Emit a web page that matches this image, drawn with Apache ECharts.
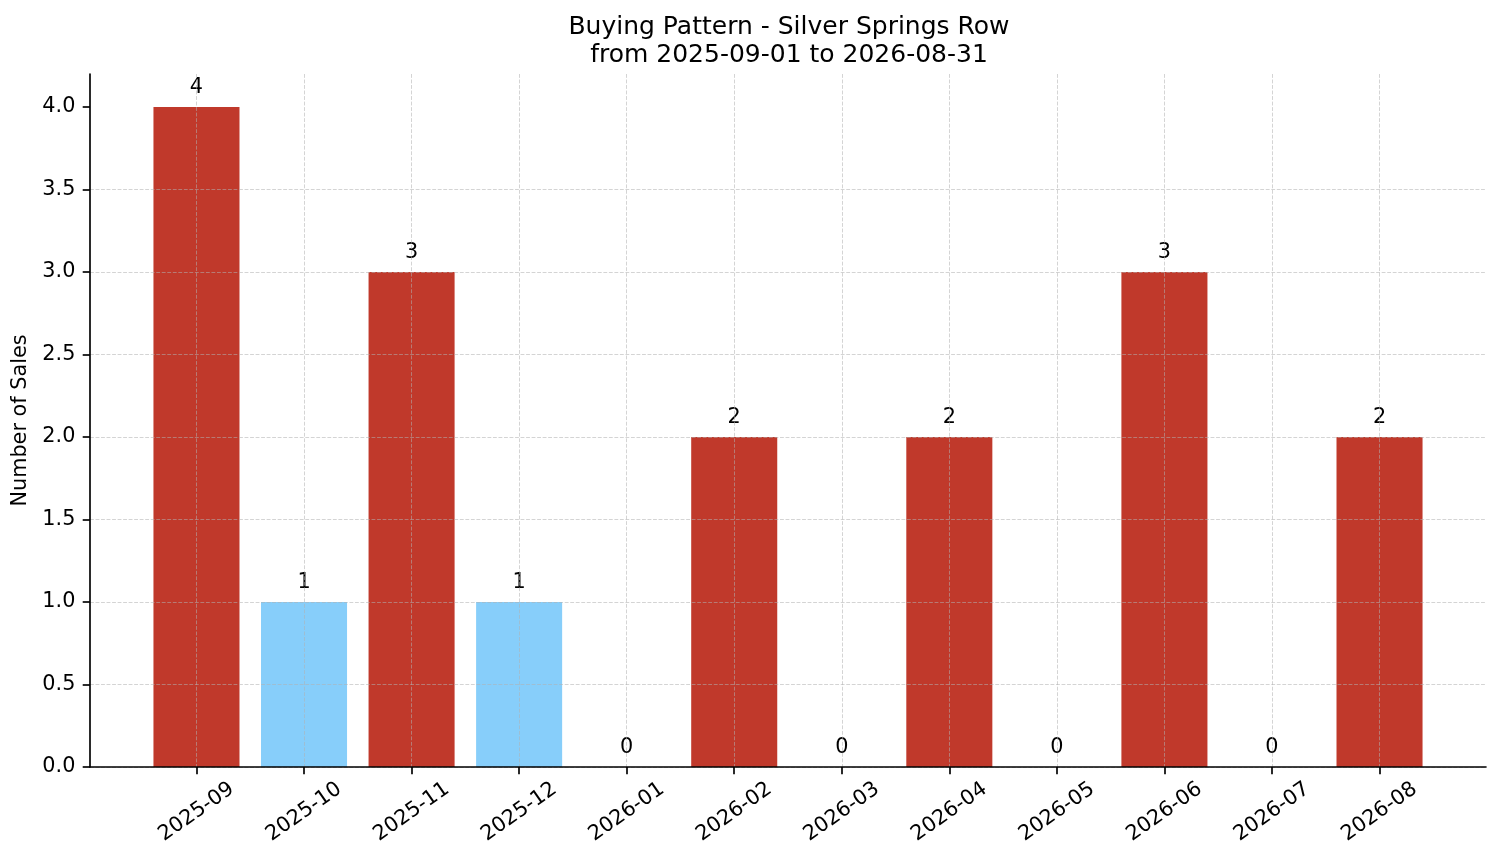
<!DOCTYPE html>
<html>
<head>
<meta charset="utf-8">
<script src="https://cdn.jsdelivr.net/npm/echarts@6/dist/echarts.min.js"></script>
<style>
html,body{margin:0;padding:0;background:#ffffff;}
#chart{width:1501px;height:863px;}
</style>
</head>
<body>
<div id="chart"></div>
<script>
// ---- data ----
const months = ['2025-09','2025-10','2025-11','2025-12','2026-01','2026-02','2026-03','2026-04','2026-05','2026-06','2026-07','2026-08'];
const sales = [4, 1, 3, 1, 0, 2, 0, 2, 0, 3, 0, 2];
const yTicks = [0, 0.5, 1.0, 1.5, 2.0, 2.5, 3.0, 3.5, 4.0];
const titleLines = ['Buying Pattern - Silver Springs Row', 'from 2025-09-01 to 2026-08-31'];
const yAxisTitle = 'Number of Sales';
const colorHigh = '#C0392B';
const colorLow = '#87CEFA';

// ---- layout ----
const W = 1501, H = 863;
const axLeft = 90, axRight = 1486, axTop = 74, axBottom = 767;
const n = months.length;
// matplotlib-like x extent: bars of width 0.8 plus 5% margins
const span = (n - 1 + 0.8) * 1.1;
const unit = (axRight - axLeft) / span;
const pad = (span - n) / 2 * unit;
const FONT = 'DejaVu Sans';
const FS = 20.8;
const gridColor = 'rgba(176,176,176,0.55)';
const dash = [3.85, 1.67];
const mean = sales.reduce((a, b) => a + b, 0) / sales.length;

const chart = echarts.init(document.getElementById('chart'), null, {renderer: 'canvas', width: W, height: H});
chart.setOption({
  backgroundColor: '#ffffff',
  animation: false,
  textStyle: {fontFamily: FONT},
  title: {
    text: titleLines.join('\n'),
    left: (axLeft + axRight) / 2 - 4,
    top: 8,
    textAlign: 'center',
    textStyle: {fontFamily: FONT, fontSize: 25, fontWeight: 'normal', color: '#000', lineHeight: 28}
  },
  grid: [
    {left: axLeft, right: W - axRight, top: axTop, bottom: H - axBottom, containLabel: false},
    {left: axLeft + pad, right: W - axRight + pad, top: axTop, bottom: H - axBottom, containLabel: false}
  ],
  xAxis: [
    {
      gridIndex: 0, type: 'value', min: 0, max: 1, z: 6,
      axisLine: {show: true, onZero: false, lineStyle: {color: '#000', width: 1.67}},
      axisTick: {show: false}, axisLabel: {show: false}, splitLine: {show: false}
    },
    {
      gridIndex: 1, type: 'category', data: months, z: 5,
      axisLine: {show: false},
      axisTick: {show: true, alignWithLabel: true, length: 7.3, lineStyle: {color: '#000', width: 1.67}},
      axisLabel: {show: true, interval: 0, rotate: 35, align: 'center', verticalAlign: 'middle', margin: 45,
        fontFamily: FONT, fontSize: FS, color: '#000'},
      splitLine: {show: true, alignWithLabel: true, interval: 0, lineStyle: {color: gridColor, width: 1, type: dash}}
    }
  ],
  yAxis: [
    {
      gridIndex: 0, type: 'value', min: 0, max: 4.2, interval: 0.5, z: 5,
      axisLine: {show: true, onZero: false, lineStyle: {color: '#000', width: 1.67}},
      axisTick: {show: true, length: 7.3, customValues: yTicks, lineStyle: {color: '#000', width: 1.67}},
      axisLabel: {show: true, margin: 14.6, customValues: yTicks, fontFamily: FONT, fontSize: FS, color: '#000',
        formatter: v => Number(v).toFixed(1)},
      splitLine: {show: true, showMinLine: true, showMaxLine: false, lineStyle: {color: gridColor, width: 1, type: dash}},
      name: yAxisTitle, nameLocation: 'middle', nameRotate: 90, nameGap: 54,
      nameTextStyle: {fontFamily: FONT, fontSize: FS, color: '#000'}
    },
    {
      gridIndex: 1, type: 'value', min: 0, max: 4.2, show: false
    }
  ],
  series: [{
    type: 'bar',
    xAxisIndex: 1, yAxisIndex: 1,
    data: sales,
    barWidth: '80%',
    z: 2,
    itemStyle: {color: p => (p.value < mean ? colorLow : colorHigh)},
    label: {show: true, position: 'top', distance: 9, fontFamily: FONT, fontSize: FS, color: '#000'}
  }]
});
</script>
</body>
</html>
